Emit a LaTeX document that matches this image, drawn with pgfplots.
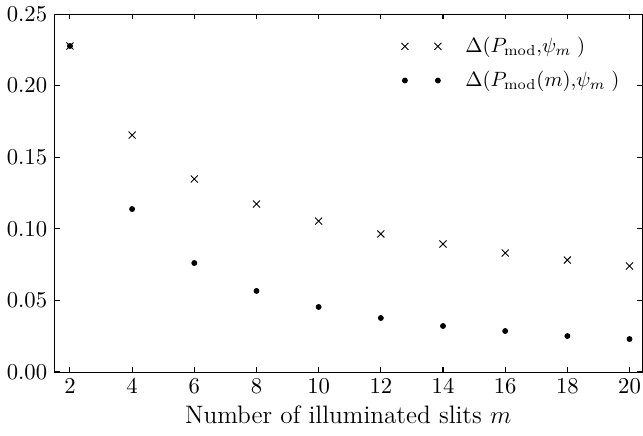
\documentclass[border=0pt]{standalone}
\usepackage{pgfplots}
\pgfplotsset{compat=1.18}
\begin{document}
\begin{tikzpicture}
\begin{axis}[
  name=ax,
  scale only axis,
  width=284pt, height=173pt,
  xmin=1.5, xmax=20.4,
  ymin=0, ymax=0.25,
  xtick={2,4,...,20},
  ytick={0,0.05,0.10,0.15,0.20,0.25},
  yticklabel style={/pgf/number format/.cd,fixed,fixed zerofill,precision=2},
  tick label style={font=\fontsize{11.2}{13}\selectfont},
  tick align=inside,
  xtick pos=both, ytick pos=both,
  major tick length=2.6pt,
  tick style={black, line width=0.5pt},
  xlabel={Number of illuminated slits $m$},
  xlabel style={font=\fontsize{12.2}{14}\selectfont, yshift=1pt},
  legend style={draw=none, fill=none, at={(0.98,0.96)}, anchor=north east,
    row sep=3.5pt, cells={anchor=west}, font=\normalsize},
  legend image code/.code={\draw[#1] plot coordinates {(0cm,0cm) (0.56cm,0cm)}; \path (0.95cm,0cm);},
]
\addplot[only marks, mark=x, mark size=2.4pt, black, line width=0.45pt] coordinates {
(2,0.2277) (4,0.1655) (6,0.1348) (8,0.1173) (10,0.1054) (12,0.0964) (14,0.0894) (16,0.0831) (18,0.0782) (20,0.0740)};
\addlegendentry{$\Delta(P_{\mathrm{mod}}{,}\psi_m\;)$}
\addplot[only marks, mark=*, mark size=1.2pt, black] coordinates {
(2,0.2277) (4,0.1138) (6,0.0761) (8,0.0566) (10,0.0454) (12,0.0377) (14,0.0321) (16,0.0286) (18,0.0251) (20,0.0230)};
\addlegendentry{$\Delta(P_{\mathrm{mod}}(m){,}\psi_m\;)$}
\end{axis}
\pgfresetboundingbox
\path ([shift={(-26.3pt,-30.9pt)}]ax.south west) rectangle ([shift={(0.5pt,6.8pt)}]ax.north east);
\end{tikzpicture}
\end{document}
